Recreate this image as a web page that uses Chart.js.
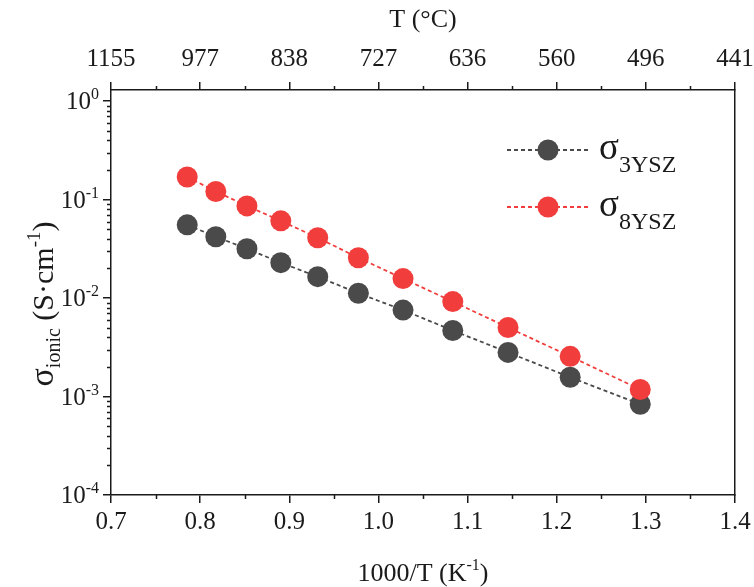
<!DOCTYPE html>
<html>
<head>
<meta charset="utf-8">
<script src="https://cdn.jsdelivr.net/npm/chart.js@4.4.1/dist/chart.umd.min.js"></script>
<style>
  html, body { margin: 0; padding: 0; background: #fff; }
</style>
</head>
<body>
<canvas id="chart" width="754" height="587"></canvas>
<script>
// 1000/T (K^-1) for 1000, 950, ... 500 °C
const invT = [0.7855, 0.8176, 0.8525, 0.8905, 0.9319, 0.9775, 1.0276, 1.0834, 1.1454, 1.2151, 1.2937];
const sigma3YSZ = [0.0555, 0.0420, 0.0317, 0.0229, 0.0165, 0.0112, 0.00756, 0.00469, 0.00281, 0.00157, 0.000835];
const sigma8YSZ = [0.170, 0.121, 0.0864, 0.0609, 0.0410, 0.0257, 0.0158, 0.00922, 0.00503, 0.00256, 0.00118];

const xTicks = [0.7, 0.8, 0.9, 1.0, 1.1, 1.2, 1.3, 1.4];
const xMinorTicks = [0.75, 0.85, 0.95, 1.05, 1.15, 1.25, 1.35];
const topTickLabels = ['1155', '977', '838', '727', '636', '560', '496', '441'];
const yTicks = [1e-4, 1e-3, 1e-2, 1e-1, 1];
const yTickExp = ['-4', '-3', '-2', '-1', '0'];

const FONT = '"Liberation Serif", "Times New Roman", serif';
const AXIS = '#1a1a1a';
const GRAY = '#4a4a4a';
const RED = '#f23d3d';

function richText(ctx, parts, x, y, align) {
  // parts: [text, size, dy]
  let w = 0;
  parts.forEach(p => { ctx.font = p[1] + 'px ' + FONT; w += ctx.measureText(p[0]).width; });
  let cx = align === 'center' ? x - w / 2 : align === 'right' ? x - w : x;
  ctx.textAlign = 'left';
  ctx.textBaseline = 'alphabetic';
  parts.forEach(p => {
    ctx.font = p[1] + 'px ' + FONT;
    ctx.fillText(p[0], cx, y + (p[2] || 0));
    cx += ctx.measureText(p[0]).width;
  });
}

const decor = {
  id: 'decor',
  afterDraw(chart) {
    const ctx = chart.ctx;
    const x = chart.scales.x, y = chart.scales.y;
    const area = chart.chartArea;
    ctx.save();
    ctx.strokeStyle = AXIS;
    ctx.fillStyle = AXIS;
    ctx.lineWidth = 1.5;

    // minor ticks
    ctx.beginPath();
    xMinorTicks.forEach(v => {
      const px = Math.round(x.getPixelForValue(v)) + 0.5;
      ctx.moveTo(px, area.bottom); ctx.lineTo(px, area.bottom + 4);
      ctx.moveTo(px, area.top); ctx.lineTo(px, area.top - 4);
    });
    for (let e = 0; e < yTicks.length - 1; e++) {
      for (let k = 2; k <= 9; k++) {
        const py = Math.round(y.getPixelForValue(k * yTicks[e])) + 0.5;
        ctx.moveTo(area.left, py); ctx.lineTo(area.left - 4, py);
      }
    }
    ctx.stroke();

    // y tick labels 10^n
    yTicks.forEach((v, i) => {
      const py = y.getPixelForValue(v);
      richText(ctx, [['10', 25, 0], [yTickExp[i], 16, -10]], area.left - 12, py + 8, 'right');
    });

    // axis titles
    const cxp = (area.left + area.right) / 2;
    richText(ctx, [['1000/T (K', 26, 0], ['-1', 16, -11], [')', 26, 0]], cxp, 581, 'center');
    richText(ctx, [['T (°C)', 26, 0]], cxp, 27, 'center');
    ctx.save();
    ctx.translate(53, 304);
    ctx.rotate(-Math.PI / 2);
    richText(ctx, [['σ', 34, 0], ['ionic', 20, 7], [' (S·cm', 30, 0], ['-1', 19, -13], [')', 30, 0]], 0, 0, 'center');
    ctx.restore();

    // legend
    const items = [[GRAY, '3YSZ', 150], [RED, '8YSZ', 207]];
    items.forEach(it => {
      ctx.strokeStyle = it[0];
      ctx.fillStyle = it[0];
      ctx.lineWidth = 1.8;
      ctx.setLineDash([4, 3]);
      ctx.beginPath();
      ctx.moveTo(507, it[2]); ctx.lineTo(588, it[2]);
      ctx.stroke();
      ctx.setLineDash([]);
      ctx.beginPath();
      ctx.arc(548, it[2], 10.5, 0, Math.PI * 2);
      ctx.fill();
      ctx.fillStyle = AXIS;
      richText(ctx, [['σ', 37, 0], [it[1], 24, 13]], 599, it[2] + 9, 'left');
    });
    ctx.restore();
  }
};

const axisCommon = {
  type: 'linear',
  min: 0.7,
  max: 1.4,
  afterBuildTicks: s => { s.ticks = xTicks.map(v => ({ value: v })); },
  grid: { drawOnChartArea: false, drawTicks: true, tickLength: 8, color: AXIS, lineWidth: 1.5 },
  border: { display: true, color: AXIS, width: 1.5 }
};

new Chart(document.getElementById('chart'), {
  type: 'scatter',
  data: {
    datasets: [
      {
        label: 'σ3YSZ',
        data: invT.map((v, i) => ({ x: v, y: sigma3YSZ[i] })),
        showLine: true,
        borderColor: GRAY,
        backgroundColor: GRAY,
        borderWidth: 1.8,
        borderDash: [4, 3],
        pointRadius: 10.5,
        pointBorderWidth: 0,
        order: 1
      },
      {
        label: 'σ8YSZ',
        data: invT.map((v, i) => ({ x: v, y: sigma8YSZ[i] })),
        showLine: true,
        borderColor: RED,
        backgroundColor: RED,
        borderWidth: 1.8,
        borderDash: [4, 3],
        pointRadius: 10.5,
        pointBorderWidth: 0,
        order: 0
      }
    ]
  },
  options: {
    responsive: false,
    animation: false,
    devicePixelRatio: 1,
    layout: { padding: 0 },
    plugins: { legend: { display: false }, tooltip: { enabled: false } },
    scales: {
      x: Object.assign({}, axisCommon, {
        position: 'bottom',
        ticks: { color: AXIS, font: { family: FONT, size: 25 }, padding: 4, maxRotation: 0,
          callback: v => v.toFixed(1) },
        afterFit: s => { s.height = 92; s.paddingLeft = 0; s.paddingRight = 0; }
      }),
      x2: Object.assign({}, axisCommon, {
        position: 'top',
        display: true,
        ticks: { color: AXIS, font: { family: FONT, size: 25 }, padding: 8, maxRotation: 0,
          callback: (v, i) => topTickLabels[i] },
        afterFit: s => { s.height = 90; s.paddingLeft = 0; s.paddingRight = 0; }
      }),
      y: {
        type: 'logarithmic',
        position: 'left',
        min: 1e-4,
        max: 1.3,
        afterBuildTicks: s => { s.ticks = yTicks.map(v => ({ value: v })); },
        ticks: { display: false },
        grid: { drawOnChartArea: false, drawTicks: true, tickLength: 8, color: AXIS, lineWidth: 1.5 },
        border: { display: true, color: AXIS, width: 1.5 },
        afterFit: s => { s.width = 111; }
      },
      y2: {
        type: 'linear',
        position: 'right',
        display: true,
        ticks: { display: false },
        grid: { display: false, drawTicks: false },
        border: { display: true, color: AXIS, width: 1.5 },
        afterFit: s => { s.width = 19; }
      }
    }
  },
  plugins: [decor]
});
</script>
</body>
</html>
